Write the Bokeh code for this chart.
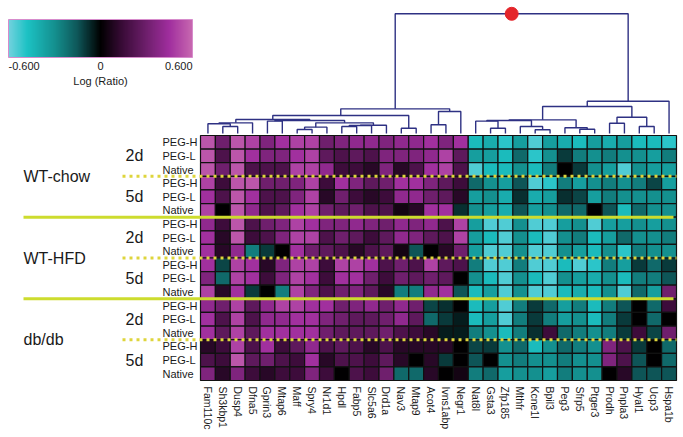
import numpy as np
from bokeh.plotting import figure
from bokeh.models import Range1d, LinearColorMapper, ColumnDataSource
from bokeh.transform import transform
from bokeh.core.properties import value
from bokeh.embed import file_html
from bokeh.resources import INLINE

# ---------------- data ----------------
genes = ["Fam110c", "Sh3kbp1", "Dusp4", "Dfna5", "Gprin3", "Mtap6", "Maff", "Spry4",
         "Nr1d1", "Hpdl", "Fabp5", "Slc5a6", "Drd1a", "Nav3", "Mtap9", "Acot4",
         "Ivns1abp", "Negr1", "Nat8l", "Gsta3", "Zfp185", "Mthfr", "Kcne1l", "Bpil3",
         "Peg3", "Sfrp5", "Ptger3", "Prodh", "Pnpla3", "Hyal1", "Ucp3", "Hspa1b"]
groups = ["WT-chow", "WT-HFD", "db/db"]
days = ["2d", "5d"]
treatments = ["PEG-H", "PEG-L", "Native"]

log_ratio = [
    [0.55, 0.3, 0.55, 0.5, 0.35, 0.45, 0.5, 0.5, 0.3, 0.35, 0.4, 0.4, 0.35, 0.4, 0.4, 0.45, 0.35, 0.45, -0.45, -0.4, -0.5, -0.35, -0.55, -0.35, -0.4, -0.45, -0.35, -0.4, -0.35, -0.45, -0.45, -0.5],
    [0.55, 0.2, 0.55, 0.45, 0.35, 0.35, 0.45, 0.5, 0.25, 0.2, 0.25, 0.2, 0.35, 0.35, 0.35, 0.4, 0.5, 0.25, -0.35, -0.35, -0.45, -0.2, -0.5, -0.3, -0.1, -0.25, -0.3, -0.25, -0.3, -0.3, -0.35, -0.25],
    [0.55, 0.3, 0.55, 0.2, 0.2, 0.2, 0.5, 0.5, 0.4, 0.15, 0.15, 0.1, 0.35, 0.1, 0.2, 0.45, 0.5, 0.2, -0.55, -0.45, -0.45, -0.3, -0.45, -0.25, 0.0, -0.1, -0.3, -0.35, -0.55, -0.3, -0.35, -0.35],
    [0.5, 0.15, 0.55, 0.55, 0.3, 0.3, 0.35, 0.5, 0.15, 0.45, 0.35, 0.25, 0.3, 0.45, 0.45, 0.35, 0.25, 0.15, -0.2, -0.3, -0.35, -0.15, -0.55, -0.5, -0.25, -0.35, -0.3, -0.25, -0.3, -0.25, -0.12, -0.35],
    [0.45, 0.2, 0.55, 0.45, 0.2, 0.2, 0.35, 0.5, 0.1, 0.3, 0.15, 0.1, 0.15, 0.4, 0.4, 0.3, 0.25, 0.1, -0.35, -0.3, -0.4, -0.08, -0.4, -0.35, -0.08, -0.12, -0.35, -0.25, -0.3, -0.3, -0.3, -0.3],
    [0.5, 0.0, 0.55, 0.4, 0.2, 0.25, 0.45, 0.5, 0.3, 0.25, 0.3, 0.2, 0.2, 0.05, 0.1, 0.45, 0.45, -0.08, -0.3, -0.35, -0.4, -0.15, -0.35, -0.3, -0.2, -0.2, 0.0, -0.15, -0.45, -0.2, -0.3, -0.3],
    [0.4, 0.15, 0.55, 0.2, 0.3, 0.35, 0.5, 0.45, 0.35, 0.35, 0.4, 0.35, 0.3, 0.4, 0.35, 0.4, 0.2, 0.5, -0.35, -0.55, -0.55, -0.3, -0.55, -0.55, -0.35, -0.3, -0.55, -0.35, -0.35, -0.3, -0.35, -0.3],
    [0.45, 0.1, 0.55, 0.15, 0.2, 0.35, 0.5, 0.5, 0.2, 0.3, 0.25, 0.15, 0.25, 0.4, 0.35, 0.25, 0.2, 0.5, -0.35, -0.45, -0.55, -0.3, -0.45, -0.55, -0.3, -0.25, -0.45, -0.35, -0.2, -0.3, -0.3, -0.25],
    [0.45, 0.1, 0.4, -0.25, -0.1, 0.0, 0.45, 0.3, 0.25, 0.2, 0.1, 0.2, 0.25, 0.05, -0.15, 0.0, 0.1, 0.3, -0.35, -0.55, -0.55, -0.3, -0.55, -0.55, -0.3, -0.35, -0.45, -0.3, -0.5, -0.25, -0.3, -0.3],
    [0.45, -0.12, 0.5, 0.45, 0.1, 0.35, 0.5, 0.5, 0.15, 0.5, 0.5, 0.45, 0.2, 0.3, 0.2, 0.5, 0.25, 0.2, -0.25, -0.55, -0.55, -0.25, -0.55, -0.55, -0.45, -0.55, -0.5, -0.25, -0.35, -0.1, -0.2, -0.1],
    [0.35, -0.2, 0.5, 0.45, 0.15, 0.35, 0.5, 0.45, 0.15, 0.45, 0.45, 0.3, 0.15, 0.3, 0.25, 0.3, 0.25, 0.0, -0.3, -0.45, -0.55, -0.3, -0.45, -0.55, -0.3, -0.35, -0.4, -0.3, -0.45, -0.25, -0.25, -0.15],
    [0.5, 0.1, 0.45, -0.1, 0.0, -0.25, 0.5, 0.35, 0.2, 0.3, 0.35, 0.25, 0.1, -0.25, -0.25, 0.4, 0.45, -0.15, -0.45, -0.35, -0.55, -0.3, -0.55, -0.55, -0.45, -0.4, -0.45, -0.3, -0.55, -0.2, -0.35, 0.3],
    [0.4, 0.3, 0.5, 0.25, 0.4, 0.5, 0.5, 0.45, 0.45, 0.3, 0.35, 0.4, 0.3, 0.4, 0.3, -0.12, -0.08, 0.0, -0.45, -0.35, -0.55, -0.25, -0.1, -0.2, -0.35, -0.25, -0.45, -0.25, -0.15, 0.0, -0.2, 0.15],
    [0.45, 0.2, 0.5, 0.2, 0.4, 0.4, 0.45, 0.45, 0.35, 0.3, 0.25, 0.25, 0.3, 0.4, 0.25, -0.2, -0.1, -0.05, -0.45, -0.35, -0.55, -0.25, -0.1, -0.25, -0.35, -0.3, -0.45, -0.25, -0.1, 0.0, -0.2, 0.0],
    [0.45, 0.25, 0.5, 0.25, 0.45, 0.45, 0.45, 0.45, 0.3, 0.25, 0.25, 0.25, 0.3, 0.2, 0.15, 0.1, -0.05, -0.05, -0.25, -0.3, -0.45, -0.25, -0.08, 0.15, -0.2, -0.25, -0.3, -0.25, -0.1, 0.15, -0.12, 0.3],
    [0.1, 0.15, 0.5, 0.2, 0.45, 0.15, 0.25, 0.4, 0.2, 0.25, 0.2, 0.1, 0.2, 0.1, 0.1, 0.1, 0.1, 0.0, -0.12, -0.1, -0.3, -0.2, -0.45, -0.3, -0.2, -0.25, -0.3, 0.35, 0.2, -0.1, 0.0, -0.2],
    [0.2, 0.15, 0.55, 0.25, 0.3, 0.2, 0.15, 0.45, 0.1, 0.2, 0.2, 0.15, 0.25, 0.1, 0.0, 0.1, -0.1, 0.0, -0.15, 0.0, -0.3, -0.25, -0.3, -0.3, -0.25, -0.3, -0.3, 0.35, 0.2, -0.15, 0.0, -0.2],
    [0.35, 0.1, 0.35, 0.15, 0.1, 0.15, 0.15, 0.35, 0.15, 0.0, 0.2, 0.15, 0.3, -0.2, -0.2, 0.1, 0.0, 0.05, -0.25, -0.2, -0.35, -0.3, -0.3, -0.35, -0.25, -0.3, -0.3, 0.0, 0.1, -0.15, -0.15, -0.15],
]

# dendrogram merges: (name, left child, right child, height); ints are gene columns
merge_names = ["n1", "n2", "C", "D", "E", "F", "R1", "R2", "R3", "G", "K", "L", "N", "M",
               "S", "P", "Q", "T1", "T2", "T3", "T4", "T5", "T6", "T7", "T8", "T9", "T10",
               "T11", "T12", "T13", "root"]
merge_left = [1, 0, "n2", 4, 6, "E", 9, "R1", "R2", "F", "D", "C", 13, "L",
              15, "S", "M", 19, 18, 22, 21, "T2", 25, 24, "T5", 27, 29,
              "T9", "T8", "T12", "Q"]
merge_right = [2, "n1", 3, 5, 7, 8, 10, 11, 12, "R3", "G", "K", 14, "N",
               16, 17, "P", 20, "T1", 23, "T3", "T4", 26, "T6", "T7", 28, 30,
               "T10", "T11", 31, "T13"]
merge_height = [0.058, 0.081, 0.089, 0.103, 0.033, 0.053, 0.058, 0.067, 0.069, 0.089, 0.109,
                0.117, 0.044, 0.150, 0.073, 0.184, 0.206, 0.044, 0.103, 0.031, 0.058, 0.109,
                0.036, 0.048, 0.114, 0.086, 0.058, 0.136, 0.226, 0.270, 1.0]

legend_ticks = [-0.6, 0.0, 0.6]
legend_tick_labels = ["-0.600", "0", "0.600"]
legend_title = "Log (Ratio)"

# ---------------- layout (pixels of the page) ----------------
W, H = 683, 437
FIG_L, FIG_T = 0, 0
HM_L, HM_T, HM_R, HM_B = 200, 135, 676, 380
ncols, nrows = len(genes), len(log_ratio)
col_w = (HM_R - HM_L) / ncols
row_h = (HM_B - HM_T) / nrows


def X(px):
    return (px - HM_L) / col_w


def Y(py):
    return nrows - (py - HM_T) / row_h


D_BASE, D_SCALE = 133.0, 119.7  # pixel y of leaves, pixels per unit height

p = figure(width=W, height=H, min_border=0, x_axis_location=None, y_axis_location=None,
           output_backend="svg", toolbar_location=None,
           x_range=Range1d(X(FIG_L), X(FIG_L + W)),
           y_range=Range1d(Y(FIG_T + H), Y(FIG_T)),
           outline_line_color=None, background_fill_color="white", border_fill_color="white")
p.xgrid.visible = False
p.ygrid.visible = False
p.extra_y_ranges = {"dend": Range1d((D_BASE - (FIG_T + H)) / D_SCALE, (D_BASE - FIG_T) / D_SCALE)}

# colour map
stops = [(-0.60, "#72d2de"), (-0.48, "#1cc2c4"), (-0.30, "#14908f"), (-0.15, "#0e5658"),
         (0.00, "#000000"), (0.15, "#3c0c3a"), (0.30, "#6e1f6c"), (0.45, "#a02e9e"),
         (0.60, "#c868b0")]


def hex2rgb(h):
    return np.array([int(h[i:i + 2], 16) for i in (1, 3, 5)], dtype=float)


sv = np.array([s[0] for s in stops])
sc = np.array([hex2rgb(s[1]) for s in stops])
pal = []
for v in np.linspace(-0.6, 0.6, 256):
    rgb = [np.interp(v, sv, sc[:, k]) for k in range(3)]
    pal.append("#%02x%02x%02x" % tuple(int(round(c)) for c in rgb))
mapper = LinearColorMapper(palette=pal, low=-0.6, high=0.6)

# heatmap
xs, ys, vals = [], [], []
for r, row in enumerate(log_ratio):
    for c, v in enumerate(row):
        xs.append(c + 0.5)
        ys.append(nrows - r - 0.5)
        vals.append(v)
src = ColumnDataSource(dict(x=xs, y=ys, v=vals))
p.rect(x="x", y="y", width=1, height=1, source=src, fill_color=transform("v", mapper),
       line_color="#111111", line_width=1.2)

# dendrogram
pos = {i: (i + 0.5, 0.0) for i in range(ncols)}
dx, dy = [], []
for name, a, b, h in zip(merge_names, merge_left, merge_right, merge_height):
    xa, ha = pos[a]
    xb, hb = pos[b]
    dx.append([xa, xa, xb, xb])
    dy.append([ha, h, h, hb])
    pos[name] = ((xa + xb) / 2, h)
p.multi_line(dx, dy, y_range_name="dend", line_color="#2e3183", line_width=1.4)
rx, rh = pos["root"]
p.scatter([rx], [rh], y_range_name="dend", size=13, fill_color="#e4262b", line_color="#e4262b")

# separators
nb = len(treatments)
solid_y = [nrows - nb * 2 * (g + 1) for g in range(len(groups) - 1)]
dot_y = [nrows - nb * (2 * g + 1) for g in range(len(groups))]
p.segment(x0=X(23), y0=solid_y, x1=X(673), y1=solid_y, line_color="#cddc2e", line_width=3)
dots = p.segment(x0=X(122), y0=dot_y, x1=ncols, y1=dot_y, line_color="#ded53c", line_width=3)
dots.glyph.line_dash = [3, 4]

font = value("Liberation Sans")
# row labels
p.text(x=[X(162)] * nrows, y=[nrows - r - 0.5 for r in range(nrows)],
       text=[treatments[r % nb] for r in range(nrows)], text_font=font,
       text_font_size="11px", text_align="left", text_baseline="middle", text_color="#1a1a1a")
# day labels
day_y = [nrows - (nb * k + 1.5) for k in range(2 * len(groups))]
p.text(x=[X(134)] * len(day_y), y=day_y, text=[days[k % 2] for k in range(len(day_y))],
       text_font=font, text_font_size="16px", text_align="center", text_baseline="middle",
       text_color="#1a1a1a")
# group labels
p.text(x=[X(23)] * len(groups), y=dot_y, text=groups, text_font=font, text_font_size="16px",
       text_align="left", text_baseline="middle", text_color="#1a1a1a")
# gene labels
p.text(x=[c + 0.5 for c in range(ncols)], y=[Y(386)] * ncols, text=genes, angle=-np.pi / 2,
       text_font=font, text_font_size="10.5px", text_align="left", text_baseline="middle",
       text_color="#1a1a1a")

# colour legend
bl, br, bt, bb = X(8), X(192), Y(19), Y(57)
grad = np.linspace(mapper.low, mapper.high, 256).reshape(1, -1)
p.image(image=[grad], x=bl, y=bb, dw=br - bl, dh=bt - bb, color_mapper=mapper)
p.quad(left=bl, right=br, top=bt, bottom=bb, fill_color=None, line_color="#d78ccc", line_width=1)
tx, ta = [], []
for t in legend_ticks:
    tx.append(bl + (t - mapper.low) / (mapper.high - mapper.low) * (br - bl))
    ta.append("left" if t == mapper.low else ("right" if t == mapper.high else "center"))
p.text(x=tx, y=[Y(65)] * 3, text=legend_tick_labels, text_align=ta, text_font=font,
       text_font_size="11px", text_baseline="middle", text_color="#1a1a1a")
p.text(x=[(bl + br) / 2], y=[Y(80)], text=[legend_title], text_font=font, text_font_size="11px",
       text_align="center", text_baseline="middle", text_color="#1a1a1a")

open("out.html", "w").write(file_html(p, INLINE))
